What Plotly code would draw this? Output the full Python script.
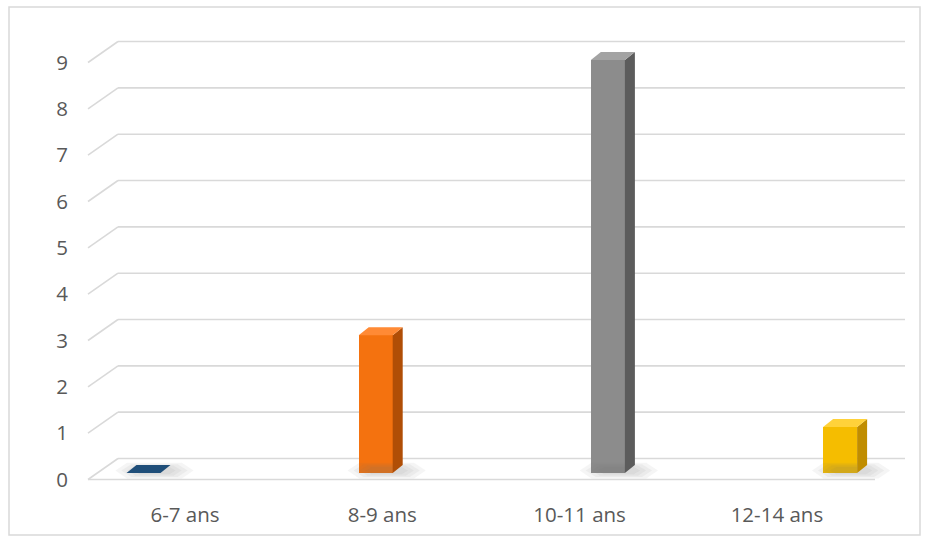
import plotly.graph_objects as go

# ---------------- data ----------------
categories = ["6-7 ans", "8-9 ans", "10-11 ans", "12-14 ans"]
values = [0, 3, 9, 1]
y_ticks = list(range(0, 10))
front_colors = ["#1F4E79", "#F4720F", "#8C8C8C", "#F5BD00"]
side_colors = ["#17395A", "#B04E06", "#5C5C5C", "#C08D00"]
top_colors = ["#1F4E79", "#FF8A35", "#A3A3A3", "#FFD23A"]

# ---------------- layout geometry (pixels) ----------------
W, H = 928, 539
L, R, T, B = 70, 18, 30, 39
pl, pr, pt, pb = L, W - R, T, H - B

# front (label) plane
lab_c0, lab_step = 185.0, 197.3
y0_px, y_unit = 479.5, 46.33
# bar plane
bar_c0, bar_step = 143.5, 232.2
b0_px, b_unit = 473.0, 45.9
# depth offsets
wall_dx, wall_dy = 30.0, 21.0
bar_dx, bar_dy = 10.0, 8.0
bar_w_px = 34.0

x_range = [(pl - lab_c0) / lab_step, (pr - lab_c0) / lab_step]
y_range = [(y0_px - pb) / y_unit, (y0_px - pt) / y_unit]
x2_range = [(pl - bar_c0) / bar_step, (pr - bar_c0) / bar_step]
y2_range = [(b0_px - pb) / b_unit, (b0_px - pt) / b_unit]


def lab_x(p):
    return (p - lab_c0) / lab_step


def px_x(p):
    return (p - pl) / (pr - pl)


def px_y(p):
    return (pb - p) / (pb - pt)


fig = go.Figure()

xs = list(range(len(categories)))
hw = bar_w_px / bar_step / 2
ddx = bar_dx / bar_step
ddy = bar_dy / b_unit

# soft shadows around each bar base (layered, low opacity)
for i, v in enumerate(values):
    c = xs[i]
    cx = c + ddx / 2 + hw * 0.35
    cy = ddy * 0.3
    for k in range(4):
        rx = hw * (2.3 - 0.35 * k)
        ry = (0.17 - 0.03 * k)
        fig.add_trace(go.Scatter(
            x=[cx - rx, cx - rx * 0.7, cx + rx * 0.7, cx + rx, cx + rx * 0.7, cx - rx * 0.7, cx - rx],
            y=[cy, cy - ry, cy - ry, cy, cy + ry, cy + ry, cy],
            fill="toself", mode="lines", line=dict(width=0),
            fillcolor="rgba(110,110,110,0.07)", xaxis="x2", yaxis="y2",
            hoverinfo="skip", showlegend=False))

# front faces
fig.add_trace(go.Bar(
    x=xs, y=values, width=bar_w_px / bar_step, marker=dict(color=front_colors, line=dict(width=0)),
    xaxis="x2", yaxis="y2", showlegend=False))

# side and top faces
for i, v in enumerate(values):
    c = xs[i]
    if v > 0:
        fig.add_trace(go.Scatter(
            x=[c + hw, c + hw + ddx, c + hw + ddx, c + hw],
            y=[0, ddy, v + ddy, v],
            fill="toself", mode="lines", line=dict(width=0),
            fillcolor=side_colors[i], xaxis="x2", yaxis="y2",
            hoverinfo="skip", showlegend=False))
    fig.add_trace(go.Scatter(
        x=[c - hw, c + hw, c + hw + ddx, c - hw + ddx],
        y=[v, v, v + ddy, v + ddy],
        fill="toself", mode="lines", line=dict(width=0),
        fillcolor=top_colors[i], xaxis="x2", yaxis="y2",
        hoverinfo="skip", showlegend=False))

# gridlines (back wall + left stubs + floor front edge)
shapes = []
grid_col = "#D9D9D9"
for v in y_ticks:
    yf = v
    yb = v + wall_dy / y_unit
    shapes.append(dict(type="line", xref="x", yref="y", x0=lab_x(88), y0=yf,
                       x1=lab_x(88 + wall_dx), y1=yb, line=dict(color=grid_col, width=1.6), layer="below"))
    shapes.append(dict(type="line", xref="x", yref="y", x0=lab_x(88 + wall_dx), y0=yb,
                       x1=lab_x(905), y1=yb, line=dict(color=grid_col, width=1.6), layer="below"))
shapes.append(dict(type="line", xref="x", yref="y", x0=lab_x(88), y0=y_ticks[0],
                   x1=lab_x(875), y1=y_ticks[0], line=dict(color=grid_col, width=1.6), layer="below"))
# chart border
shapes.append(dict(type="rect", xref="paper", yref="paper", x0=px_x(9), x1=px_x(920),
                   y0=px_y(535), y1=px_y(7), line=dict(color="#D9D9D9", width=1.5), layer="below"))

font_col = "#595959"
fig.update_layout(
    width=W, height=H,
    margin=dict(l=L, r=R, t=T, b=B),
    paper_bgcolor="white", plot_bgcolor="white",
    font=dict(family="Open Sans", color=font_col, size=20),
    shapes=shapes,
    xaxis=dict(range=x_range, tickvals=xs, ticktext=categories, showgrid=False, zeroline=False,
               showline=False, ticks="", tickfont=dict(size=20.5, color=font_col), fixedrange=True),
    yaxis=dict(range=y_range, tickvals=y_ticks, showgrid=False, zeroline=False, showline=False,
               ticks="", tickfont=dict(size=20.5, color=font_col), ticklabelstandoff=1),
    xaxis2=dict(range=x2_range, overlaying="x", visible=False),
    yaxis2=dict(range=y2_range, overlaying="y", visible=False),
    bargap=0,
)

fig.write_html("out.html")
